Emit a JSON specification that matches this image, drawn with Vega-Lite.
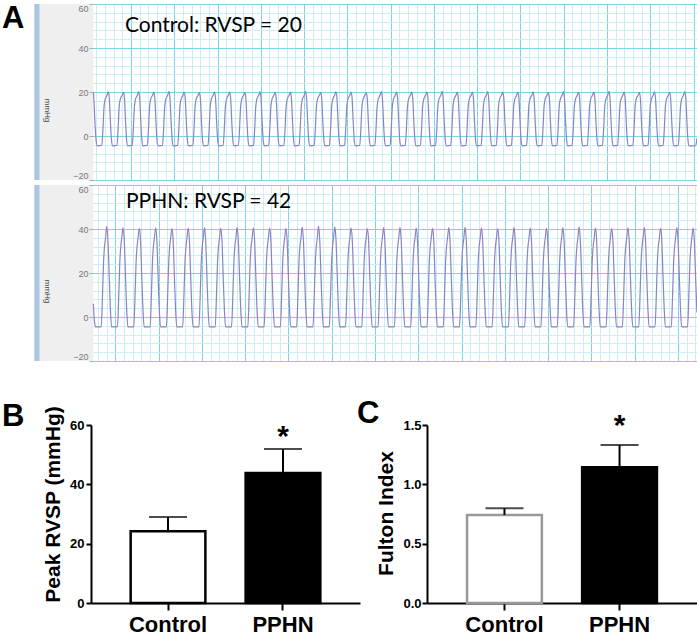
{
"$schema": "https://vega.github.io/schema/vega-lite/v6.json",
"background": "white",
"padding": {"left": 2, "top": 2, "right": 0, "bottom": 0},
"config": {"view": {"stroke": null}},
"datasets": {
"control": [
{"ms":65,"mmHg":20},{"ms":72,"mmHg":16},{"ms":85,"mmHg":5},{"ms":97,"mmHg":-2},{"ms":110,"mmHg":-4.5},
{"ms":163,"mmHg":-4.3},{"ms":176,"mmHg":3},{"ms":188,"mmHg":13},{"ms":200,"mmHg":16.5},{"ms":223,"mmHg":18.5},{"ms":238,"mmHg":20.1},{"ms":250,"mmHg":17},{"ms":263,"mmHg":6},{"ms":275,"mmHg":-2},{"ms":288,"mmHg":-4.5},
{"ms":338,"mmHg":-4.3},{"ms":351,"mmHg":3},{"ms":363,"mmHg":13},{"ms":375,"mmHg":16.5},{"ms":398,"mmHg":18.5},{"ms":413,"mmHg":19.8},{"ms":425,"mmHg":17},{"ms":438,"mmHg":6},{"ms":450,"mmHg":-2},{"ms":463,"mmHg":-4.5},
{"ms":514,"mmHg":-4.3},{"ms":527,"mmHg":3},{"ms":539,"mmHg":13},{"ms":551,"mmHg":16.5},{"ms":574,"mmHg":18.5},{"ms":589,"mmHg":20.2},{"ms":601,"mmHg":17},{"ms":614,"mmHg":6},{"ms":626,"mmHg":-2},{"ms":639,"mmHg":-4.5},
{"ms":689,"mmHg":-4.3},{"ms":702,"mmHg":3},{"ms":714,"mmHg":13},{"ms":726,"mmHg":16.5},{"ms":749,"mmHg":18.5},{"ms":764,"mmHg":19.9},{"ms":776,"mmHg":17},{"ms":789,"mmHg":6},{"ms":801,"mmHg":-2},{"ms":814,"mmHg":-4.5},
{"ms":864,"mmHg":-4.3},{"ms":877,"mmHg":3},{"ms":889,"mmHg":13},{"ms":901,"mmHg":16.5},{"ms":924,"mmHg":18.5},{"ms":939,"mmHg":20.3},{"ms":951,"mmHg":17},{"ms":964,"mmHg":6},{"ms":976,"mmHg":-2},{"ms":989,"mmHg":-4.5},
{"ms":1040,"mmHg":-4.3},{"ms":1053,"mmHg":3},{"ms":1065,"mmHg":13},{"ms":1077,"mmHg":16.5},{"ms":1100,"mmHg":18.5},{"ms":1115,"mmHg":20},{"ms":1127,"mmHg":17},{"ms":1140,"mmHg":6},{"ms":1152,"mmHg":-2},{"ms":1165,"mmHg":-4.5},
{"ms":1215,"mmHg":-4.3},{"ms":1228,"mmHg":3},{"ms":1240,"mmHg":13},{"ms":1252,"mmHg":16.5},{"ms":1275,"mmHg":18.5},{"ms":1290,"mmHg":19.7},{"ms":1302,"mmHg":17},{"ms":1315,"mmHg":6},{"ms":1327,"mmHg":-2},{"ms":1340,"mmHg":-4.5},
{"ms":1390,"mmHg":-4.3},{"ms":1403,"mmHg":3},{"ms":1415,"mmHg":13},{"ms":1427,"mmHg":16.5},{"ms":1450,"mmHg":18.5},{"ms":1465,"mmHg":20.1},{"ms":1477,"mmHg":17},{"ms":1490,"mmHg":6},{"ms":1502,"mmHg":-2},{"ms":1515,"mmHg":-4.5},
{"ms":1565,"mmHg":-4.3},{"ms":1578,"mmHg":3},{"ms":1590,"mmHg":13},{"ms":1602,"mmHg":16.5},{"ms":1625,"mmHg":18.5},{"ms":1640,"mmHg":20},{"ms":1652,"mmHg":17},{"ms":1665,"mmHg":6},{"ms":1677,"mmHg":-2},{"ms":1690,"mmHg":-4.5},
{"ms":1741,"mmHg":-4.3},{"ms":1754,"mmHg":3},{"ms":1766,"mmHg":13},{"ms":1778,"mmHg":16.5},{"ms":1801,"mmHg":18.5},{"ms":1816,"mmHg":19.8},{"ms":1828,"mmHg":17},{"ms":1841,"mmHg":6},{"ms":1853,"mmHg":-2},{"ms":1866,"mmHg":-4.5},
{"ms":1916,"mmHg":-4.3},{"ms":1929,"mmHg":3},{"ms":1941,"mmHg":13},{"ms":1953,"mmHg":16.5},{"ms":1976,"mmHg":18.5},{"ms":1991,"mmHg":20.2},{"ms":2003,"mmHg":17},{"ms":2016,"mmHg":6},{"ms":2028,"mmHg":-2},{"ms":2041,"mmHg":-4.5},
{"ms":2091,"mmHg":-4.3},{"ms":2104,"mmHg":3},{"ms":2116,"mmHg":13},{"ms":2128,"mmHg":16.5},{"ms":2151,"mmHg":18.5},{"ms":2166,"mmHg":20},{"ms":2178,"mmHg":17},{"ms":2191,"mmHg":6},{"ms":2203,"mmHg":-2},{"ms":2216,"mmHg":-4.5},
{"ms":2267,"mmHg":-4.3},{"ms":2280,"mmHg":3},{"ms":2292,"mmHg":13},{"ms":2304,"mmHg":16.5},{"ms":2327,"mmHg":18.5},{"ms":2342,"mmHg":19.9},{"ms":2354,"mmHg":17},{"ms":2367,"mmHg":6},{"ms":2379,"mmHg":-2},{"ms":2392,"mmHg":-4.5},
{"ms":2442,"mmHg":-4.3},{"ms":2455,"mmHg":3},{"ms":2467,"mmHg":13},{"ms":2479,"mmHg":16.5},{"ms":2502,"mmHg":18.5},{"ms":2517,"mmHg":20.3},{"ms":2529,"mmHg":17},{"ms":2542,"mmHg":6},{"ms":2554,"mmHg":-2},{"ms":2567,"mmHg":-4.5},
{"ms":2617,"mmHg":-4.3},{"ms":2630,"mmHg":3},{"ms":2642,"mmHg":13},{"ms":2654,"mmHg":16.5},{"ms":2677,"mmHg":18.5},{"ms":2692,"mmHg":19.8},{"ms":2704,"mmHg":17},{"ms":2717,"mmHg":6},{"ms":2729,"mmHg":-2},{"ms":2742,"mmHg":-4.5},
{"ms":2793,"mmHg":-4.3},{"ms":2806,"mmHg":3},{"ms":2818,"mmHg":13},{"ms":2830,"mmHg":16.5},{"ms":2853,"mmHg":18.5},{"ms":2868,"mmHg":20.1},{"ms":2880,"mmHg":17},{"ms":2893,"mmHg":6},{"ms":2905,"mmHg":-2},{"ms":2918,"mmHg":-4.5},
{"ms":2968,"mmHg":-4.3},{"ms":2981,"mmHg":3},{"ms":2993,"mmHg":13},{"ms":3005,"mmHg":16.5},{"ms":3028,"mmHg":18.5},{"ms":3043,"mmHg":20},{"ms":3055,"mmHg":17},{"ms":3068,"mmHg":6},{"ms":3080,"mmHg":-2},{"ms":3093,"mmHg":-4.5},
{"ms":3143,"mmHg":-4.3},{"ms":3156,"mmHg":3},{"ms":3168,"mmHg":13},{"ms":3180,"mmHg":16.5},{"ms":3203,"mmHg":18.5},{"ms":3218,"mmHg":19.7},{"ms":3230,"mmHg":17},{"ms":3243,"mmHg":6},{"ms":3255,"mmHg":-2},{"ms":3268,"mmHg":-4.5},
{"ms":3318,"mmHg":-4.3},{"ms":3331,"mmHg":3},{"ms":3343,"mmHg":13},{"ms":3355,"mmHg":16.5},{"ms":3378,"mmHg":18.5},{"ms":3393,"mmHg":20.2},{"ms":3405,"mmHg":17},{"ms":3418,"mmHg":6},{"ms":3430,"mmHg":-2},{"ms":3443,"mmHg":-4.5},
{"ms":3494,"mmHg":-4.3},{"ms":3507,"mmHg":3},{"ms":3519,"mmHg":13},{"ms":3531,"mmHg":16.5},{"ms":3554,"mmHg":18.5},{"ms":3569,"mmHg":20},{"ms":3581,"mmHg":17},{"ms":3594,"mmHg":6},{"ms":3606,"mmHg":-2},{"ms":3619,"mmHg":-4.5},
{"ms":3669,"mmHg":-4.3},{"ms":3682,"mmHg":3},{"ms":3694,"mmHg":13},{"ms":3706,"mmHg":16.5},{"ms":3729,"mmHg":18.5},{"ms":3744,"mmHg":19.9},{"ms":3756,"mmHg":17},{"ms":3769,"mmHg":6},{"ms":3781,"mmHg":-2},{"ms":3794,"mmHg":-4.5},
{"ms":3844,"mmHg":-4.3},{"ms":3857,"mmHg":3},{"ms":3869,"mmHg":13},{"ms":3881,"mmHg":16.5},{"ms":3904,"mmHg":18.5},{"ms":3919,"mmHg":20.1},{"ms":3931,"mmHg":17},{"ms":3944,"mmHg":6},{"ms":3956,"mmHg":-2},{"ms":3969,"mmHg":-4.5},
{"ms":4020,"mmHg":-4.3},{"ms":4033,"mmHg":3},{"ms":4045,"mmHg":13},{"ms":4057,"mmHg":16.5},{"ms":4080,"mmHg":18.5},{"ms":4095,"mmHg":20.3},{"ms":4107,"mmHg":17},{"ms":4120,"mmHg":6},{"ms":4132,"mmHg":-2},{"ms":4145,"mmHg":-4.5},
{"ms":4195,"mmHg":-4.3},{"ms":4208,"mmHg":3},{"ms":4220,"mmHg":13},{"ms":4232,"mmHg":16.5},{"ms":4255,"mmHg":18.5},{"ms":4270,"mmHg":19.8},{"ms":4282,"mmHg":17},{"ms":4295,"mmHg":6},{"ms":4307,"mmHg":-2},{"ms":4320,"mmHg":-4.5},
{"ms":4370,"mmHg":-4.3},{"ms":4383,"mmHg":3},{"ms":4395,"mmHg":13},{"ms":4407,"mmHg":16.5},{"ms":4430,"mmHg":18.5},{"ms":4445,"mmHg":20},{"ms":4457,"mmHg":17},{"ms":4470,"mmHg":6},{"ms":4482,"mmHg":-2},{"ms":4495,"mmHg":-4.5},
{"ms":4546,"mmHg":-4.3},{"ms":4559,"mmHg":3},{"ms":4571,"mmHg":13},{"ms":4583,"mmHg":16.5},{"ms":4606,"mmHg":18.5},{"ms":4621,"mmHg":20.2},{"ms":4633,"mmHg":17},{"ms":4646,"mmHg":6},{"ms":4658,"mmHg":-2},{"ms":4671,"mmHg":-4.5},
{"ms":4721,"mmHg":-4.3},{"ms":4734,"mmHg":3},{"ms":4746,"mmHg":13},{"ms":4758,"mmHg":16.5},{"ms":4781,"mmHg":18.5},{"ms":4796,"mmHg":19.9},{"ms":4808,"mmHg":17},{"ms":4821,"mmHg":6},{"ms":4833,"mmHg":-2},{"ms":4846,"mmHg":-4.5},
{"ms":4896,"mmHg":-4.3},{"ms":4909,"mmHg":3},{"ms":4921,"mmHg":13},{"ms":4933,"mmHg":16.5},{"ms":4956,"mmHg":18.5},{"ms":4971,"mmHg":20},{"ms":4983,"mmHg":17},{"ms":4996,"mmHg":6},{"ms":5008,"mmHg":-2},{"ms":5021,"mmHg":-4.5},
{"ms":5071,"mmHg":-4.3},{"ms":5084,"mmHg":3},{"ms":5096,"mmHg":13},{"ms":5108,"mmHg":16.5},{"ms":5131,"mmHg":18.5},{"ms":5146,"mmHg":20.1},{"ms":5158,"mmHg":17},{"ms":5171,"mmHg":6},{"ms":5183,"mmHg":-2},{"ms":5196,"mmHg":-4.5},
{"ms":5247,"mmHg":-4.3},{"ms":5260,"mmHg":3},{"ms":5272,"mmHg":13},{"ms":5284,"mmHg":16.5},{"ms":5307,"mmHg":18.5},{"ms":5322,"mmHg":19.8},{"ms":5334,"mmHg":17},{"ms":5347,"mmHg":6},{"ms":5359,"mmHg":-2},{"ms":5372,"mmHg":-4.5},
{"ms":5422,"mmHg":-4.3},{"ms":5435,"mmHg":3},{"ms":5447,"mmHg":13},{"ms":5459,"mmHg":16.5},{"ms":5482,"mmHg":18.5},{"ms":5497,"mmHg":20.2},{"ms":5509,"mmHg":17},{"ms":5522,"mmHg":6},{"ms":5534,"mmHg":-2},{"ms":5547,"mmHg":-4.5},
{"ms":5597,"mmHg":-4.3},{"ms":5610,"mmHg":3},{"ms":5622,"mmHg":13},{"ms":5634,"mmHg":16.5},{"ms":5657,"mmHg":18.5},{"ms":5672,"mmHg":20},{"ms":5684,"mmHg":17},{"ms":5697,"mmHg":6},{"ms":5709,"mmHg":-2},{"ms":5722,"mmHg":-4.5},
{"ms":5773,"mmHg":-4.3},{"ms":5786,"mmHg":3},{"ms":5798,"mmHg":13},{"ms":5810,"mmHg":16.5},{"ms":5833,"mmHg":18.5},{"ms":5848,"mmHg":19.9},{"ms":5860,"mmHg":17},{"ms":5873,"mmHg":6},{"ms":5885,"mmHg":-2},{"ms":5898,"mmHg":-4.5},
{"ms":5948,"mmHg":-4.3},{"ms":5961,"mmHg":3},{"ms":5973,"mmHg":13},{"ms":5985,"mmHg":16.5},{"ms":6008,"mmHg":18.5},{"ms":6023,"mmHg":20.3},{"ms":6035,"mmHg":17},{"ms":6048,"mmHg":6},{"ms":6060,"mmHg":-2},{"ms":6073,"mmHg":-4.5},
{"ms":6123,"mmHg":-4.3},{"ms":6136,"mmHg":3},{"ms":6148,"mmHg":13},{"ms":6160,"mmHg":16.5},{"ms":6183,"mmHg":18.5},{"ms":6198,"mmHg":20},{"ms":6210,"mmHg":17},{"ms":6223,"mmHg":6},{"ms":6235,"mmHg":-2},{"ms":6248,"mmHg":-4.5},
{"ms":6299,"mmHg":-4.3},{"ms":6312,"mmHg":3},{"ms":6324,"mmHg":13},{"ms":6336,"mmHg":16.5},{"ms":6359,"mmHg":18.5},{"ms":6374,"mmHg":19.8},{"ms":6386,"mmHg":17},{"ms":6399,"mmHg":6},{"ms":6411,"mmHg":-2},{"ms":6424,"mmHg":-4.5},
{"ms":6474,"mmHg":-4.3},{"ms":6487,"mmHg":3},{"ms":6499,"mmHg":13},{"ms":6511,"mmHg":16.5},{"ms":6534,"mmHg":18.5},{"ms":6549,"mmHg":20.1},{"ms":6561,"mmHg":17},{"ms":6574,"mmHg":6},{"ms":6586,"mmHg":-2},{"ms":6599,"mmHg":-4.5},
{"ms":6649,"mmHg":-4.3},{"ms":6662,"mmHg":3},{"ms":6674,"mmHg":13},{"ms":6686,"mmHg":16.5},{"ms":6709,"mmHg":18.5},{"ms":6724,"mmHg":20},{"ms":6736,"mmHg":17},{"ms":6749,"mmHg":6},{"ms":6761,"mmHg":-2},{"ms":6774,"mmHg":-4.5},
{"ms":6824,"mmHg":-4.3},{"ms":6837,"mmHg":3},{"ms":6849,"mmHg":13},{"ms":6861,"mmHg":16.5},{"ms":6884,"mmHg":18.5},{"ms":6899,"mmHg":20.2},{"ms":6911,"mmHg":17},{"ms":6924,"mmHg":6},{"ms":6936,"mmHg":-2},{"ms":6949,"mmHg":-4.5},
{"ms":7025,"mmHg":-4.4},{"ms":7039,"mmHg":-1}
],
"pphn": [
{"ms":245,"mmHg":6},{"ms":258,"mmHg":-2},{"ms":270,"mmHg":-4.5},
{"ms":336,"mmHg":-4.5},{"ms":351,"mmHg":10},{"ms":363,"mmHg":25},{"ms":372,"mmHg":31},{"ms":386,"mmHg":36},{"ms":400,"mmHg":41.2},{"ms":414,"mmHg":35},{"ms":429,"mmHg":18},{"ms":444,"mmHg":2},{"ms":456,"mmHg":-4.5},
{"ms":524,"mmHg":-4.5},{"ms":539,"mmHg":10},{"ms":551,"mmHg":25},{"ms":560,"mmHg":31},{"ms":574,"mmHg":36},{"ms":588,"mmHg":40.6},{"ms":602,"mmHg":35},{"ms":617,"mmHg":18},{"ms":632,"mmHg":2},{"ms":644,"mmHg":-4.5},
{"ms":712,"mmHg":-4.5},{"ms":727,"mmHg":10},{"ms":739,"mmHg":25},{"ms":748,"mmHg":31},{"ms":762,"mmHg":36},{"ms":776,"mmHg":40.3},{"ms":790,"mmHg":35},{"ms":805,"mmHg":18},{"ms":820,"mmHg":2},{"ms":832,"mmHg":-4.5},
{"ms":901,"mmHg":-4.5},{"ms":916,"mmHg":10},{"ms":928,"mmHg":25},{"ms":937,"mmHg":31},{"ms":951,"mmHg":36},{"ms":965,"mmHg":40.5},{"ms":979,"mmHg":35},{"ms":994,"mmHg":18},{"ms":1009,"mmHg":2},{"ms":1021,"mmHg":-4.5},
{"ms":1089,"mmHg":-4.5},{"ms":1104,"mmHg":10},{"ms":1116,"mmHg":25},{"ms":1125,"mmHg":31},{"ms":1139,"mmHg":36},{"ms":1153,"mmHg":40.2},{"ms":1167,"mmHg":35},{"ms":1182,"mmHg":18},{"ms":1197,"mmHg":2},{"ms":1209,"mmHg":-4.5},
{"ms":1277,"mmHg":-4.5},{"ms":1292,"mmHg":10},{"ms":1304,"mmHg":25},{"ms":1313,"mmHg":31},{"ms":1327,"mmHg":36},{"ms":1341,"mmHg":40.4},{"ms":1355,"mmHg":35},{"ms":1370,"mmHg":18},{"ms":1385,"mmHg":2},{"ms":1397,"mmHg":-4.5},
{"ms":1465,"mmHg":-4.5},{"ms":1480,"mmHg":10},{"ms":1492,"mmHg":25},{"ms":1501,"mmHg":31},{"ms":1515,"mmHg":36},{"ms":1529,"mmHg":40.6},{"ms":1543,"mmHg":35},{"ms":1558,"mmHg":18},{"ms":1573,"mmHg":2},{"ms":1585,"mmHg":-4.5},
{"ms":1653,"mmHg":-4.5},{"ms":1668,"mmHg":10},{"ms":1680,"mmHg":25},{"ms":1689,"mmHg":31},{"ms":1703,"mmHg":36},{"ms":1717,"mmHg":40.3},{"ms":1731,"mmHg":35},{"ms":1746,"mmHg":18},{"ms":1761,"mmHg":2},{"ms":1773,"mmHg":-4.5},
{"ms":1842,"mmHg":-4.5},{"ms":1857,"mmHg":10},{"ms":1869,"mmHg":25},{"ms":1878,"mmHg":31},{"ms":1892,"mmHg":36},{"ms":1906,"mmHg":40.8},{"ms":1920,"mmHg":35},{"ms":1935,"mmHg":18},{"ms":1950,"mmHg":2},{"ms":1962,"mmHg":-4.5},
{"ms":2030,"mmHg":-4.5},{"ms":2045,"mmHg":10},{"ms":2057,"mmHg":25},{"ms":2066,"mmHg":31},{"ms":2080,"mmHg":36},{"ms":2094,"mmHg":40.5},{"ms":2108,"mmHg":35},{"ms":2123,"mmHg":18},{"ms":2138,"mmHg":2},{"ms":2150,"mmHg":-4.5},
{"ms":2218,"mmHg":-4.5},{"ms":2233,"mmHg":10},{"ms":2245,"mmHg":25},{"ms":2254,"mmHg":31},{"ms":2268,"mmHg":36},{"ms":2282,"mmHg":40.4},{"ms":2296,"mmHg":35},{"ms":2311,"mmHg":18},{"ms":2326,"mmHg":2},{"ms":2338,"mmHg":-4.5},
{"ms":2406,"mmHg":-4.5},{"ms":2421,"mmHg":10},{"ms":2433,"mmHg":25},{"ms":2442,"mmHg":31},{"ms":2456,"mmHg":36},{"ms":2470,"mmHg":40.3},{"ms":2484,"mmHg":35},{"ms":2499,"mmHg":18},{"ms":2514,"mmHg":2},{"ms":2526,"mmHg":-4.5},
{"ms":2594,"mmHg":-4.5},{"ms":2609,"mmHg":10},{"ms":2621,"mmHg":25},{"ms":2630,"mmHg":31},{"ms":2644,"mmHg":36},{"ms":2658,"mmHg":40.9},{"ms":2672,"mmHg":35},{"ms":2687,"mmHg":18},{"ms":2702,"mmHg":2},{"ms":2714,"mmHg":-4.5},
{"ms":2783,"mmHg":-4.5},{"ms":2798,"mmHg":10},{"ms":2810,"mmHg":25},{"ms":2819,"mmHg":31},{"ms":2833,"mmHg":36},{"ms":2847,"mmHg":41.3},{"ms":2861,"mmHg":35},{"ms":2876,"mmHg":18},{"ms":2891,"mmHg":2},{"ms":2903,"mmHg":-4.5},
{"ms":2971,"mmHg":-4.5},{"ms":2986,"mmHg":10},{"ms":2998,"mmHg":25},{"ms":3007,"mmHg":31},{"ms":3021,"mmHg":36},{"ms":3035,"mmHg":41},{"ms":3049,"mmHg":35},{"ms":3064,"mmHg":18},{"ms":3079,"mmHg":2},{"ms":3091,"mmHg":-4.5},
{"ms":3159,"mmHg":-4.5},{"ms":3174,"mmHg":10},{"ms":3186,"mmHg":25},{"ms":3195,"mmHg":31},{"ms":3209,"mmHg":36},{"ms":3223,"mmHg":40.5},{"ms":3237,"mmHg":35},{"ms":3252,"mmHg":18},{"ms":3267,"mmHg":2},{"ms":3279,"mmHg":-4.5},
{"ms":3347,"mmHg":-4.5},{"ms":3362,"mmHg":10},{"ms":3374,"mmHg":25},{"ms":3383,"mmHg":31},{"ms":3397,"mmHg":36},{"ms":3411,"mmHg":40.2},{"ms":3425,"mmHg":35},{"ms":3440,"mmHg":18},{"ms":3455,"mmHg":2},{"ms":3467,"mmHg":-4.5},
{"ms":3535,"mmHg":-4.5},{"ms":3550,"mmHg":10},{"ms":3562,"mmHg":25},{"ms":3571,"mmHg":31},{"ms":3585,"mmHg":36},{"ms":3599,"mmHg":40.6},{"ms":3613,"mmHg":35},{"ms":3628,"mmHg":18},{"ms":3643,"mmHg":2},{"ms":3655,"mmHg":-4.5},
{"ms":3724,"mmHg":-4.5},{"ms":3739,"mmHg":10},{"ms":3751,"mmHg":25},{"ms":3760,"mmHg":31},{"ms":3774,"mmHg":36},{"ms":3788,"mmHg":40.8},{"ms":3802,"mmHg":35},{"ms":3817,"mmHg":18},{"ms":3832,"mmHg":2},{"ms":3844,"mmHg":-4.5},
{"ms":3912,"mmHg":-4.5},{"ms":3927,"mmHg":10},{"ms":3939,"mmHg":25},{"ms":3948,"mmHg":31},{"ms":3962,"mmHg":36},{"ms":3976,"mmHg":40.4},{"ms":3990,"mmHg":35},{"ms":4005,"mmHg":18},{"ms":4020,"mmHg":2},{"ms":4032,"mmHg":-4.5},
{"ms":4100,"mmHg":-4.5},{"ms":4115,"mmHg":10},{"ms":4127,"mmHg":25},{"ms":4136,"mmHg":31},{"ms":4150,"mmHg":36},{"ms":4164,"mmHg":40.3},{"ms":4178,"mmHg":35},{"ms":4193,"mmHg":18},{"ms":4208,"mmHg":2},{"ms":4220,"mmHg":-4.5},
{"ms":4288,"mmHg":-4.5},{"ms":4303,"mmHg":10},{"ms":4315,"mmHg":25},{"ms":4324,"mmHg":31},{"ms":4338,"mmHg":36},{"ms":4352,"mmHg":40.6},{"ms":4366,"mmHg":35},{"ms":4381,"mmHg":18},{"ms":4396,"mmHg":2},{"ms":4408,"mmHg":-4.5},
{"ms":4476,"mmHg":-4.5},{"ms":4491,"mmHg":10},{"ms":4503,"mmHg":25},{"ms":4512,"mmHg":31},{"ms":4526,"mmHg":36},{"ms":4540,"mmHg":40.9},{"ms":4554,"mmHg":35},{"ms":4569,"mmHg":18},{"ms":4584,"mmHg":2},{"ms":4596,"mmHg":-4.5},
{"ms":4665,"mmHg":-4.5},{"ms":4680,"mmHg":10},{"ms":4692,"mmHg":25},{"ms":4701,"mmHg":31},{"ms":4715,"mmHg":36},{"ms":4729,"mmHg":40.5},{"ms":4743,"mmHg":35},{"ms":4758,"mmHg":18},{"ms":4773,"mmHg":2},{"ms":4785,"mmHg":-4.5},
{"ms":4853,"mmHg":-4.5},{"ms":4868,"mmHg":10},{"ms":4880,"mmHg":25},{"ms":4889,"mmHg":31},{"ms":4903,"mmHg":36},{"ms":4917,"mmHg":40.2},{"ms":4931,"mmHg":35},{"ms":4946,"mmHg":18},{"ms":4961,"mmHg":2},{"ms":4973,"mmHg":-4.5},
{"ms":5041,"mmHg":-4.5},{"ms":5056,"mmHg":10},{"ms":5068,"mmHg":25},{"ms":5077,"mmHg":31},{"ms":5091,"mmHg":36},{"ms":5105,"mmHg":40.7},{"ms":5119,"mmHg":35},{"ms":5134,"mmHg":18},{"ms":5149,"mmHg":2},{"ms":5161,"mmHg":-4.5},
{"ms":5229,"mmHg":-4.5},{"ms":5244,"mmHg":10},{"ms":5256,"mmHg":25},{"ms":5265,"mmHg":31},{"ms":5279,"mmHg":36},{"ms":5293,"mmHg":40.4},{"ms":5307,"mmHg":35},{"ms":5322,"mmHg":18},{"ms":5337,"mmHg":2},{"ms":5349,"mmHg":-4.5},
{"ms":5417,"mmHg":-4.5},{"ms":5432,"mmHg":10},{"ms":5444,"mmHg":25},{"ms":5453,"mmHg":31},{"ms":5467,"mmHg":36},{"ms":5481,"mmHg":40.3},{"ms":5495,"mmHg":35},{"ms":5510,"mmHg":18},{"ms":5525,"mmHg":2},{"ms":5537,"mmHg":-4.5},
{"ms":5606,"mmHg":-4.5},{"ms":5621,"mmHg":10},{"ms":5633,"mmHg":25},{"ms":5642,"mmHg":31},{"ms":5656,"mmHg":36},{"ms":5670,"mmHg":40.6},{"ms":5684,"mmHg":35},{"ms":5699,"mmHg":18},{"ms":5714,"mmHg":2},{"ms":5726,"mmHg":-4.5},
{"ms":5794,"mmHg":-4.5},{"ms":5809,"mmHg":10},{"ms":5821,"mmHg":25},{"ms":5830,"mmHg":31},{"ms":5844,"mmHg":36},{"ms":5858,"mmHg":41},{"ms":5872,"mmHg":35},{"ms":5887,"mmHg":18},{"ms":5902,"mmHg":2},{"ms":5914,"mmHg":-4.5},
{"ms":5982,"mmHg":-4.5},{"ms":5997,"mmHg":10},{"ms":6009,"mmHg":25},{"ms":6018,"mmHg":31},{"ms":6032,"mmHg":36},{"ms":6046,"mmHg":40.4},{"ms":6060,"mmHg":35},{"ms":6075,"mmHg":18},{"ms":6090,"mmHg":2},{"ms":6102,"mmHg":-4.5},
{"ms":6170,"mmHg":-4.5},{"ms":6185,"mmHg":10},{"ms":6197,"mmHg":25},{"ms":6206,"mmHg":31},{"ms":6220,"mmHg":36},{"ms":6234,"mmHg":40.2},{"ms":6248,"mmHg":35},{"ms":6263,"mmHg":18},{"ms":6278,"mmHg":2},{"ms":6290,"mmHg":-4.5},
{"ms":6358,"mmHg":-4.5},{"ms":6373,"mmHg":10},{"ms":6385,"mmHg":25},{"ms":6394,"mmHg":31},{"ms":6408,"mmHg":36},{"ms":6422,"mmHg":40.5},{"ms":6436,"mmHg":35},{"ms":6451,"mmHg":18},{"ms":6466,"mmHg":2},{"ms":6478,"mmHg":-4.5},
{"ms":6547,"mmHg":-4.5},{"ms":6562,"mmHg":10},{"ms":6574,"mmHg":25},{"ms":6583,"mmHg":31},{"ms":6597,"mmHg":36},{"ms":6611,"mmHg":40.8},{"ms":6625,"mmHg":35},{"ms":6640,"mmHg":18},{"ms":6655,"mmHg":2},{"ms":6667,"mmHg":-4.5},
{"ms":6735,"mmHg":-4.5},{"ms":6750,"mmHg":10},{"ms":6762,"mmHg":25},{"ms":6771,"mmHg":31},{"ms":6785,"mmHg":36},{"ms":6799,"mmHg":40.3},{"ms":6813,"mmHg":35},{"ms":6828,"mmHg":18},{"ms":6843,"mmHg":2},{"ms":6855,"mmHg":-4.5},
{"ms":6923,"mmHg":-4.5},{"ms":6938,"mmHg":10},{"ms":6950,"mmHg":25},{"ms":6959,"mmHg":31},{"ms":6973,"mmHg":36},{"ms":6987,"mmHg":40.6},{"ms":7001,"mmHg":35},{"ms":7016,"mmHg":18},{"ms":7031,"mmHg":2},{"ms":7043,"mmHg":-4.5},
{"ms":7111,"mmHg":-4.5},{"ms":7126,"mmHg":10},{"ms":7138,"mmHg":25},{"ms":7147,"mmHg":31},{"ms":7161,"mmHg":36},{"ms":7175,"mmHg":40.4},{"ms":7189,"mmHg":35},{"ms":7204,"mmHg":18},{"ms":7219,"mmHg":2}
],
"rvsp": [{"group":"Control","mean":24.2,"upper":29.0,"sig":""},{"group":"PPHN","mean":43.8,"upper":51.9,"sig":"*"}],
"fulton": [{"group":"Control","mean":0.742,"upper":0.798,"sig":""},{"group":"PPHN","mean":1.144,"upper":1.331,"sig":"*"}]
},
"spacing": 36,
"vconcat": [
{
"bounds": "flush",
"spacing": 5,
"resolve": {"scale": {"x": "independent", "y": "independent"}},
"vconcat": [
{
"width": 606, "height": 176,
"title": {"text": "A", "orient": "top", "anchor": "start", "frame": "group", "offset": 0, "dx": -89, "dy": 31, "baseline": "top", "fontSize": 31, "font": "Liberation Sans", "fontWeight": "bold", "color": "black"},
"resolve": {"axis": {"x": "independent", "y": "independent"}},
"layer": [
{"data": {"values": [{"region": "panel"}]},
 "mark": {"type": "rect", "color": "#efefef"},
 "encoding": {
  "x": {"datum": -616, "type": "quantitative", "scale": {"domain": [38, 7040], "nice": false, "zero": false},
        "axis": {"orient": "bottom", "grid": true, "tickCount": 70, "labels": false, "ticks": false, "domain": false, "title": null,
                 "gridColor": {"condition": {"test": "datum.value % 500 === 0", "value": "#78d6e4"}, "value": "#cbeff4"}, "gridWidth": 1}},
  "x2": {"datum": 65},
  "y": {"datum": 60, "type": "quantitative", "scale": {"domain": [-20, 60], "nice": false, "zero": false},
        "axis": {"orient": "right", "grid": true, "values": [-20,-16,-12,-8,-4,0,4,8,12,16,20,24,28,32,36,40,44,48,52,56,60], "labels": false, "ticks": false, "domain": false, "title": null,
                 "gridColor": {"condition": {"test": "datum.value % 20 === 0", "value": "#78d6e4"}, "value": "#cbeff4"}, "gridWidth": 1}},
  "y2": {"datum": -20}
 }},
{"data": {"values": [{"region": "strip"}]},
 "mark": {"type": "rect", "color": "#a9c6e2"},
 "encoding": {"x": {"datum": -616, "type": "quantitative", "axis": null}, "x2": {"datum": -558}, "y": {"datum": 60, "type": "quantitative", "axis": null}, "y2": {"datum": -20}}},
{"data": {"name": "control"},
 "mark": {"type": "line", "color": "#8a84c2", "strokeWidth": 1.2, "interpolate": "monotone"},
 "encoding": {
  "x": {"field": "ms", "type": "quantitative", "axis": null},
  "y": {"field": "mmHg", "type": "quantitative",
        "axis": {"orient": "left", "offset": -2, "values": [-20, 0, 20, 40, 60], "labelFlush": true, "grid": false, "domain": false, "tickSize": 4, "tickColor": "#aaaaaa", "labelColor": "#777777", "labelFontSize": 9, "labelFont": "Liberation Sans", "labelPadding": 1,
                 "title": "mmHg", "titleX": -47, "titleY": 106, "titleAngle": 90, "titleFontSize": 8, "titleColor": "#444444", "titleFontWeight": "normal", "titleBaseline": "middle", "titleAlign": "center", "titleFont": "Liberation Sans", "zindex": 1}}
 }},
{"data": {"values": [{"label": "Control: RVSP = 20"}]},
 "mark": {"type": "text", "font": "Lato", "fontSize": 21, "align": "left", "baseline": "alphabetic", "color": "black"},
 "encoding": {"text": {"field": "label"}, "x": {"datum": 431, "type": "quantitative", "axis": null}, "y": {"datum": 47.3, "type": "quantitative", "axis": null}}}
]
},
{
"width": 606, "height": 176,
"resolve": {"axis": {"x": "independent", "y": "independent"}},
"layer": [
{"data": {"values": [{"region": "panel"}]},
 "mark": {"type": "rect", "color": "#efefef"},
 "encoding": {
  "x": {"datum": -436, "type": "quantitative", "scale": {"domain": [218, 7220], "nice": false, "zero": false},
        "axis": {"orient": "bottom", "grid": true, "tickCount": 70, "labels": false, "ticks": false, "domain": false, "title": null,
                 "gridColor": {"condition": {"test": "datum.value % 500 === 0", "value": "#78d6e4"}, "value": "#cbeff4"}, "gridWidth": 1}},
  "x2": {"datum": 245},
  "y": {"datum": 60, "type": "quantitative", "scale": {"domain": [-20, 60], "nice": false, "zero": false},
        "axis": {"orient": "right", "grid": true, "values": [-20,-16,-12,-8,-4,0,4,8,12,16,20,24,28,32,36,40,44,48,52,56,60], "labels": false, "ticks": false, "domain": false, "title": null,
                 "gridColor": {"condition": {"test": "datum.value % 20 === 0", "value": "#78d6e4"}, "value": "#cbeff4"}, "gridWidth": 1}},
  "y2": {"datum": -20}
 }},
{"data": {"values": [{"region": "strip"}]},
 "mark": {"type": "rect", "color": "#a9c6e2"},
 "encoding": {"x": {"datum": -436, "type": "quantitative", "axis": null}, "x2": {"datum": -378}, "y": {"datum": 60, "type": "quantitative", "axis": null}, "y2": {"datum": -20}}},
{"data": {"name": "pphn"},
 "mark": {"type": "line", "color": "#8a84c2", "strokeWidth": 1.2, "interpolate": "monotone"},
 "encoding": {
  "x": {"field": "ms", "type": "quantitative", "axis": null},
  "y": {"field": "mmHg", "type": "quantitative",
        "axis": {"orient": "left", "offset": -2, "values": [-20, 0, 20, 40, 60], "labelFlush": true, "grid": false, "domain": false, "tickSize": 4, "tickColor": "#aaaaaa", "labelColor": "#777777", "labelFontSize": 9, "labelFont": "Liberation Sans", "labelPadding": 1,
                 "title": "mmHg", "titleX": -47, "titleY": 106, "titleAngle": 90, "titleFontSize": 8, "titleColor": "#444444", "titleFontWeight": "normal", "titleBaseline": "middle", "titleAlign": "center", "titleFont": "Liberation Sans", "zindex": 1}}
 }},
{"data": {"values": [{"label": "PPHN: RVSP = 42"}]},
 "mark": {"type": "text", "font": "Lato", "fontSize": 21, "align": "left", "baseline": "alphabetic", "color": "black"},
 "encoding": {"text": {"field": "label"}, "x": {"datum": 622, "type": "quantitative", "axis": null}, "y": {"datum": 49.5, "type": "quantitative", "axis": null}}}
]
}
]
},
{
"bounds": "flush",
"spacing": 67,
"resolve": {"scale": {"x": "independent", "y": "independent", "fill": "independent", "stroke": "independent"}},
"hconcat": [
{
"width": 269, "height": 178,
"data": {"name": "rvsp"},
"title": {"text": "B", "orient": "top", "anchor": "start", "frame": "group", "offset": 0, "dx": -89, "dy": 51, "baseline": "alphabetic", "fontSize": 31, "font": "Liberation Sans", "fontWeight": "bold", "color": "black"},
"encoding": {
 "x": {"field": "group", "type": "nominal", "sort": ["Control", "PPHN"], "scale": {"paddingInner": 0.35, "paddingOuter": 0.345},
       "axis": {"title": null, "labelAngle": 0, "labelFont": "Liberation Sans", "labelFontWeight": "bold", "labelFontSize": 22, "labelColor": "black", "labelPadding": 4, "tickSize": 7, "tickWidth": 2, "tickColor": "black", "domainColor": "black", "domainWidth": 2}}
},
"layer": [
{"mark": {"type": "bar", "strokeWidth": 2.5},
 "encoding": {
  "y": {"field": "mean", "type": "quantitative", "title": "Peak RVSP (mmHg)", "scale": {"domain": [0, 60], "nice": false},
        "axis": {"values": [0, 20, 40, 60], "grid": false, "domainColor": "black", "domainWidth": 2, "tickColor": "black", "tickWidth": 2, "tickSize": 5, "labelFont": "Liberation Sans", "labelFontWeight": "bold", "labelFontSize": 13, "labelColor": "black", "labelPadding": 2,
                 "titleFont": "Liberation Sans", "titleFontWeight": "bold", "titleFontSize": 21, "titleColor": "black", "titleX": -32, "titleY": 79, "titleBaseline": "alphabetic", "titleAngle": -90, "titleAlign": "center"}},
  "fill": {"field": "group", "type": "nominal", "scale": {"domain": ["Control", "PPHN"], "range": ["white", "black"]}, "legend": null},
  "stroke": {"field": "group", "type": "nominal", "scale": {"domain": ["Control", "PPHN"], "range": ["black", "black"]}, "legend": null}
 }},
{"mark": {"type": "rule", "strokeWidth": 2, "color": "black"},
 "encoding": {"y": {"field": "mean", "type": "quantitative", "title": "Peak RVSP (mmHg)"}, "y2": {"field": "upper"}}},
{"mark": {"type": "tick", "size": 38, "thickness": 2, "color": "black", "orient": "horizontal"},
 "encoding": {"y": {"field": "upper", "type": "quantitative", "title": "Peak RVSP (mmHg)"}}},
{"mark": {"type": "text", "fontSize": 30, "fontWeight": "bold", "font": "Liberation Sans", "baseline": "alphabetic", "dy": -3.5, "color": "black"},
 "encoding": {"y": {"field": "upper", "type": "quantitative", "title": "Peak RVSP (mmHg)"}, "text": {"field": "sig"}}}
]
},
{
"width": 270, "height": 178,
"data": {"name": "fulton"},
"title": {"text": "C", "orient": "top", "anchor": "start", "frame": "group", "offset": 0, "dx": -70, "dy": 43, "baseline": "alphabetic", "fontSize": 31, "font": "Liberation Sans", "fontWeight": "bold", "color": "black"},
"encoding": {
 "x": {"field": "group", "type": "nominal", "sort": ["Control", "PPHN"], "scale": {"paddingInner": 0.35, "paddingOuter": 0.348},
       "axis": {"title": null, "labelAngle": 0, "labelFont": "Liberation Sans", "labelFontWeight": "bold", "labelFontSize": 22, "labelColor": "black", "labelPadding": 4, "tickSize": 7, "tickWidth": 2, "tickColor": "black", "domainColor": "black", "domainWidth": 2}}
},
"layer": [
{"mark": {"type": "bar", "strokeWidth": 2.5},
 "encoding": {
  "y": {"field": "mean", "type": "quantitative", "title": "Fulton Index", "scale": {"domain": [0, 1.5], "nice": false},
        "axis": {"values": [0, 0.5, 1, 1.5], "format": ".1f", "grid": false, "domainColor": "black", "domainWidth": 2, "tickColor": "black", "tickWidth": 2, "tickSize": 5, "labelFont": "Liberation Sans", "labelFontWeight": "bold", "labelFontSize": 13, "labelColor": "black", "labelPadding": 1,
                 "titleFont": "Liberation Sans", "titleFontWeight": "bold", "titleFontSize": 21, "titleColor": "black", "titleX": -35, "titleY": 88, "titleBaseline": "alphabetic", "titleAngle": -90, "titleAlign": "center"}},
  "fill": {"field": "group", "type": "nominal", "scale": {"domain": ["Control", "PPHN"], "range": ["white", "black"]}, "legend": null},
  "stroke": {"field": "group", "type": "nominal", "scale": {"domain": ["Control", "PPHN"], "range": ["#999999", "black"]}, "legend": null}
 }},
{"mark": {"type": "rule", "strokeWidth": 2, "color": "black"},
 "encoding": {"y": {"field": "mean", "type": "quantitative", "title": "Fulton Index"}, "y2": {"field": "upper"}}},
{"mark": {"type": "tick", "size": 38, "thickness": 2, "color": "black", "orient": "horizontal"},
 "encoding": {"y": {"field": "upper", "type": "quantitative", "title": "Fulton Index"}}},
{"mark": {"type": "text", "fontSize": 30, "fontWeight": "bold", "font": "Liberation Sans", "baseline": "alphabetic", "dy": -10, "color": "black"},
 "encoding": {"y": {"field": "upper", "type": "quantitative", "title": "Fulton Index"}, "text": {"field": "sig"}}}
]
}
]
}
]
}
